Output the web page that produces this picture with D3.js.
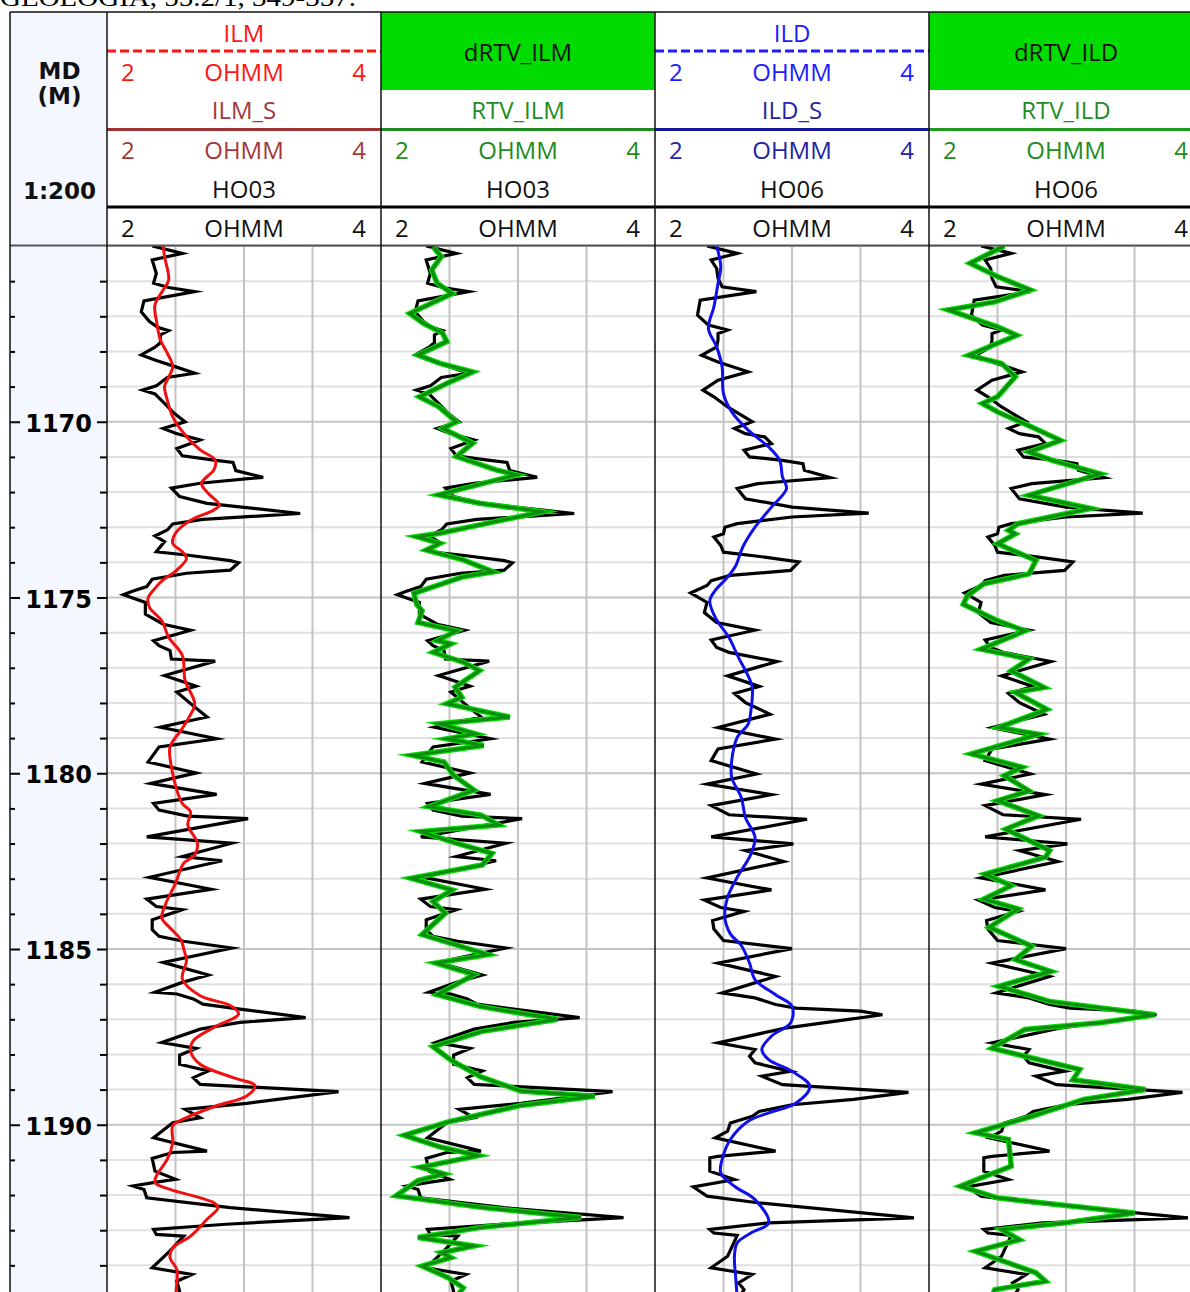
<!DOCTYPE html>
<html>
<head>
<meta charset="utf-8">
<script src="https://cdn.jsdelivr.net/npm/d3@7"></script>
<style>
    body { margin: 0; background: #fff; }
    svg { display: block; }
</style>
</head>
<body>
<div id="log"></div>
<script>
let citation = "GEOLOGIA, 55.2/1, 349-357."

let meterTicks = [1165, 1166, 1167, 1168, 1169, 1170, 1171, 1172, 1173, 1174, 1175, 1176, 1177, 1178, 1179, 1180,
    1181, 1182, 1183, 1184, 1185, 1186, 1187, 1188, 1189, 1190, 1191, 1192, 1193, 1194, 1195]
let depthLabels = [1170, 1175, 1180, 1185, 1190]
let gridValues = [2.5, 3, 3.5]
let scaleMin = 2
let scaleMax = 4
let unit = "OHMM"

// [depth (m), resistivity (ohmm)]
let ilmRaw = [
    [1165.00, 2.33], [1165.21, 2.55], [1165.40, 2.33], [1165.78, 2.36], [1166.06, 2.34], [1166.18, 2.45], [1166.30, 2.64],
    [1166.56, 2.27], [1166.87, 2.25], [1167.15, 2.31], [1167.31, 2.37], [1167.41, 2.45], [1167.53, 2.39], [1167.75, 2.39],
    [1167.88, 2.35], [1168.10, 2.25], [1168.26, 2.36], [1168.41, 2.48], [1168.62, 2.64], [1168.74, 2.44], [1168.98, 2.36],
    [1169.10, 2.26], [1169.21, 2.35], [1169.48, 2.42], [1169.76, 2.49], [1170.00, 2.57], [1170.19, 2.41], [1170.33, 2.50],
    [1170.52, 2.68], [1170.76, 2.51], [1170.97, 2.55], [1171.09, 2.78], [1171.16, 2.92], [1171.39, 2.94], [1171.58, 3.14],
    [1171.75, 2.68], [1171.89, 2.47], [1172.13, 2.53], [1172.32, 2.73], [1172.61, 3.41], [1172.78, 2.70], [1172.91, 2.48],
    [1173.08, 2.44], [1173.25, 2.35], [1173.41, 2.42], [1173.70, 2.36], [1173.79, 2.58], [1173.95, 2.90], [1174.01, 2.96],
    [1174.22, 2.90], [1174.31, 2.58], [1174.48, 2.33], [1174.69, 2.29], [1174.83, 2.18], [1174.92, 2.12], [1175.14, 2.28],
    [1175.47, 2.28], [1175.76, 2.41], [1175.93, 2.61], [1176.23, 2.34], [1176.37, 2.38], [1176.51, 2.46], [1176.75, 2.47],
    [1176.81, 2.79], [1177.22, 2.42], [1177.52, 2.65], [1177.69, 2.51], [1178.02, 2.61], [1178.40, 2.73], [1178.69, 2.39],
    [1179.02, 2.80], [1179.25, 2.38], [1179.68, 2.30], [1179.99, 2.65], [1180.29, 2.32], [1180.60, 2.80], [1180.86, 2.34],
    [1181.05, 2.38], [1181.22, 2.59], [1181.29, 3.03], [1181.81, 2.29], [1181.99, 2.91], [1182.37, 2.55], [1182.49, 2.84],
    [1182.96, 2.31], [1183.30, 2.76], [1183.58, 2.29], [1183.79, 2.36], [1183.88, 2.55], [1184.17, 2.33], [1184.45, 2.33],
    [1184.64, 2.38], [1184.78, 2.56], [1184.97, 2.91], [1185.38, 2.41], [1185.74, 2.74], [1185.95, 2.55], [1186.23, 2.35],
    [1186.28, 2.51], [1186.42, 2.63], [1186.57, 2.70], [1186.71, 2.97], [1186.95, 3.45], [1187.09, 2.97], [1187.28, 2.68],
    [1187.66, 2.40], [1187.83, 2.65], [1188.02, 2.53], [1188.28, 2.53], [1188.47, 2.74], [1188.66, 2.63], [1188.85, 2.68],
    [1189.06, 3.69], [1189.39, 3.02], [1189.56, 2.57], [1189.80, 2.68], [1189.94, 2.48], [1190.37, 2.34], [1190.75, 2.73],
    [1190.79, 2.48], [1190.96, 2.33], [1191.32, 2.35], [1191.55, 2.50], [1191.63, 2.36], [1191.74, 2.19], [1191.84, 2.27],
    [1192.08, 2.29], [1192.36, 2.90], [1192.64, 3.77], [1192.83, 2.87], [1192.98, 2.34], [1193.12, 2.36], [1193.17, 2.56],
    [1193.59, 2.46], [1194.07, 2.33], [1194.26, 2.62], [1194.45, 2.51], [1194.73, 2.53], [1195.00, 2.50]
]

let ilmSmooth = [
    [1165.00, 2.41], [1165.30, 2.42], [1165.97, 2.45], [1166.25, 2.41], [1166.68, 2.35], [1167.11, 2.36], [1167.67, 2.39],
    [1168.05, 2.44], [1168.43, 2.48], [1168.81, 2.44], [1169.00, 2.42], [1169.38, 2.44], [1169.86, 2.48], [1170.42, 2.58],
    [1170.80, 2.68], [1171.09, 2.79], [1171.37, 2.78], [1171.75, 2.69], [1172.04, 2.74], [1172.37, 2.82], [1172.51, 2.78],
    [1172.80, 2.61], [1173.17, 2.50], [1173.46, 2.48], [1173.70, 2.55], [1173.89, 2.58], [1174.22, 2.51], [1174.50, 2.41],
    [1174.74, 2.35], [1175.02, 2.30], [1175.28, 2.31], [1175.66, 2.40], [1176.13, 2.45], [1176.65, 2.55], [1177.36, 2.57],
    [1178.02, 2.64], [1178.40, 2.60], [1178.78, 2.54], [1179.25, 2.46], [1179.82, 2.47], [1180.48, 2.51], [1180.86, 2.55],
    [1181.10, 2.61], [1181.47, 2.59], [1181.99, 2.66], [1182.33, 2.64], [1182.56, 2.56], [1183.13, 2.50], [1183.70, 2.43],
    [1184.12, 2.40], [1184.36, 2.45], [1184.74, 2.54], [1185.00, 2.56], [1185.33, 2.58], [1185.85, 2.55], [1186.33, 2.68],
    [1186.61, 2.90], [1186.85, 2.96], [1187.23, 2.78], [1187.61, 2.63], [1187.90, 2.61], [1188.28, 2.68], [1188.66, 2.92],
    [1188.89, 3.08], [1189.18, 3.02], [1189.46, 2.80], [1189.80, 2.58], [1190.03, 2.48], [1190.51, 2.48], [1190.98, 2.44],
    [1191.46, 2.36], [1191.65, 2.35], [1191.84, 2.46], [1192.22, 2.78], [1192.36, 2.81], [1192.69, 2.73], [1193.17, 2.61],
    [1193.50, 2.48], [1193.78, 2.46], [1194.12, 2.51], [1194.50, 2.51], [1194.90, 2.50]
]

let rtvIlm = [
    [1165.02, 2.38], [1165.30, 2.44], [1165.68, 2.37], [1166.06, 2.41], [1166.35, 2.52], [1166.92, 2.21], [1167.20, 2.31],
    [1167.48, 2.45], [1167.72, 2.48], [1168.10, 2.27], [1168.34, 2.43], [1168.58, 2.67], [1168.91, 2.48], [1169.29, 2.28],
    [1169.57, 2.42], [1170.00, 2.55], [1170.19, 2.45], [1170.61, 2.67], [1170.99, 2.55], [1171.37, 2.84], [1171.51, 2.99],
    [1172.08, 2.42], [1172.32, 2.72], [1172.56, 3.18], [1173.17, 2.43], [1173.27, 2.26], [1173.46, 2.43], [1173.65, 2.33],
    [1173.93, 2.60], [1174.27, 2.82], [1174.41, 2.60], [1174.88, 2.24], [1175.19, 2.26], [1175.38, 2.30], [1175.71, 2.27],
    [1175.95, 2.55], [1176.23, 2.41], [1176.32, 2.51], [1176.56, 2.38], [1176.84, 2.60], [1177.08, 2.72], [1177.55, 2.54],
    [1177.84, 2.59], [1178.02, 2.48], [1178.40, 2.94], [1178.59, 2.43], [1178.88, 2.69], [1179.02, 2.48], [1179.21, 2.75],
    [1179.49, 2.23], [1179.68, 2.46], [1180.06, 2.53], [1180.48, 2.68], [1180.95, 2.35], [1181.19, 2.73], [1181.47, 2.86],
    [1181.66, 2.29], [1181.99, 2.55], [1182.28, 2.81], [1182.61, 2.74], [1182.99, 2.22], [1183.32, 2.52], [1183.65, 2.38],
    [1183.98, 2.47], [1184.59, 2.30], [1185.16, 2.78], [1185.40, 2.40], [1185.73, 2.68], [1186.30, 2.41], [1186.64, 2.73],
    [1187.00, 3.29], [1187.35, 2.73], [1187.78, 2.38], [1188.16, 2.51], [1188.64, 2.73], [1189.04, 3.02], [1189.19, 3.56],
    [1189.45, 3.02], [1189.92, 2.49], [1190.30, 2.17], [1190.64, 2.44], [1190.88, 2.71], [1191.21, 2.29], [1191.40, 2.46],
    [1191.59, 2.27], [1192.02, 2.11], [1192.35, 2.73], [1192.64, 3.46], [1192.92, 2.73], [1193.21, 2.27], [1193.45, 2.68],
    [1193.64, 2.44], [1193.78, 2.51], [1194.02, 2.30], [1194.35, 2.49], [1194.64, 2.60], [1194.90, 2.55]
]

let ildRaw = [
    [1165.00, 2.38], [1165.21, 2.60], [1165.40, 2.41], [1165.64, 2.45], [1165.92, 2.46], [1166.16, 2.49], [1166.30, 2.74],
    [1166.54, 2.33], [1166.97, 2.31], [1167.25, 2.39], [1167.39, 2.53], [1167.49, 2.46], [1167.68, 2.46], [1167.87, 2.45],
    [1168.11, 2.34], [1168.30, 2.46], [1168.58, 2.68], [1168.82, 2.46], [1169.10, 2.35], [1169.29, 2.43], [1169.58, 2.53],
    [1169.81, 2.63], [1170.00, 2.71], [1170.19, 2.58], [1170.34, 2.66], [1170.43, 2.80], [1170.62, 2.85], [1170.81, 2.65],
    [1171.00, 2.69], [1171.10, 2.93], [1171.19, 3.08], [1171.38, 3.09], [1171.59, 3.28], [1171.76, 2.75], [1171.90, 2.60],
    [1172.19, 2.66], [1172.43, 3.00], [1172.60, 3.56], [1172.71, 3.00], [1172.90, 2.60], [1173.00, 2.51], [1173.19, 2.50],
    [1173.28, 2.43], [1173.52, 2.48], [1173.71, 2.50], [1173.85, 2.80], [1173.99, 3.05], [1174.23, 2.99], [1174.37, 2.55],
    [1174.52, 2.41], [1174.66, 2.38], [1174.87, 2.26], [1175.14, 2.38], [1175.43, 2.36], [1175.71, 2.45], [1175.93, 2.73],
    [1176.21, 2.41], [1176.42, 2.45], [1176.56, 2.54], [1176.82, 2.89], [1177.23, 2.53], [1177.53, 2.76], [1177.73, 2.58],
    [1177.99, 2.66], [1178.32, 2.84], [1178.70, 2.46], [1179.03, 2.88], [1179.31, 2.46], [1179.64, 2.41], [1180.02, 2.74],
    [1180.31, 2.38], [1180.61, 2.85], [1180.92, 2.41], [1181.18, 2.54], [1181.31, 3.11], [1181.81, 2.41], [1182.01, 3.01],
    [1182.20, 2.66], [1182.51, 2.94], [1182.98, 2.38], [1183.32, 2.85], [1183.61, 2.36], [1183.82, 2.48], [1183.93, 2.65],
    [1184.19, 2.42], [1184.43, 2.43], [1184.76, 2.50], [1184.99, 3.00], [1185.40, 2.46], [1185.78, 2.88], [1186.25, 2.49],
    [1186.39, 2.73], [1186.58, 2.88], [1186.68, 3.03], [1186.77, 3.50], [1186.87, 3.66], [1187.01, 3.40], [1187.25, 2.95],
    [1187.67, 2.46], [1187.86, 2.73], [1188.05, 2.69], [1188.24, 2.73], [1188.48, 2.99], [1188.62, 2.78], [1188.86, 2.93],
    [1189.08, 3.85], [1189.28, 3.45], [1189.43, 3.00], [1189.62, 2.76], [1189.76, 2.71], [1189.95, 2.55], [1190.18, 2.53],
    [1190.37, 2.44], [1190.75, 2.88], [1190.90, 2.46], [1190.94, 2.40], [1191.32, 2.40], [1191.56, 2.58], [1191.77, 2.28],
    [1192.03, 2.38], [1192.22, 2.75], [1192.65, 3.89], [1192.79, 2.83], [1192.98, 2.40], [1193.08, 2.43], [1193.15, 2.60],
    [1193.74, 2.53], [1194.07, 2.41], [1194.26, 2.71], [1194.50, 2.61], [1194.69, 2.65], [1195.00, 2.60]
]

let ildSmooth = [
    [1165.00, 2.45], [1165.59, 2.48], [1166.06, 2.46], [1166.73, 2.43], [1167.35, 2.39], [1167.87, 2.45], [1168.44, 2.49],
    [1169.20, 2.50], [1169.72, 2.56], [1170.24, 2.68], [1170.72, 2.83], [1171.10, 2.91], [1171.57, 2.93], [1171.90, 2.96],
    [1172.43, 2.85], [1173.00, 2.73], [1173.57, 2.64], [1174.09, 2.59], [1174.42, 2.53], [1174.80, 2.44], [1175.09, 2.40],
    [1175.57, 2.44], [1176.14, 2.54], [1176.71, 2.61], [1177.23, 2.68], [1177.56, 2.71], [1178.22, 2.70], [1178.60, 2.68],
    [1178.98, 2.60], [1179.64, 2.56], [1180.12, 2.56], [1180.69, 2.63], [1181.26, 2.66], [1181.82, 2.73], [1182.30, 2.70],
    [1182.96, 2.60], [1183.53, 2.53], [1184.10, 2.51], [1184.57, 2.55], [1184.90, 2.63], [1185.40, 2.69], [1185.87, 2.73],
    [1186.30, 2.88], [1186.63, 3.00], [1187.10, 2.99], [1187.48, 2.85], [1187.86, 2.78], [1188.15, 2.83], [1188.48, 3.00],
    [1188.91, 3.13], [1189.38, 3.03], [1189.66, 2.83], [1189.90, 2.68], [1190.42, 2.55], [1190.99, 2.49], [1191.37, 2.48],
    [1191.75, 2.58], [1192.13, 2.73], [1192.79, 2.83], [1193.08, 2.70], [1193.36, 2.60], [1193.74, 2.58], [1194.40, 2.59],
    [1194.90, 2.60]
]

let rtvIld = [
    [1165.00, 2.55], [1165.49, 2.30], [1165.87, 2.50], [1166.25, 2.74], [1166.59, 2.48], [1166.82, 2.14], [1167.30, 2.50],
    [1167.54, 2.64], [1168.11, 2.29], [1168.34, 2.53], [1168.72, 2.63], [1169.29, 2.50], [1169.48, 2.39], [1169.72, 2.50],
    [1170.15, 2.75], [1170.53, 2.96], [1170.86, 2.73], [1171.10, 2.90], [1171.48, 3.25], [1172.09, 2.73], [1172.47, 3.18],
    [1172.90, 2.65], [1173.09, 2.58], [1173.19, 2.63], [1173.47, 2.50], [1173.95, 2.78], [1174.33, 2.73], [1174.61, 2.40],
    [1174.95, 2.28], [1175.19, 2.25], [1175.66, 2.50], [1175.95, 2.70], [1176.47, 2.38], [1176.75, 2.73], [1177.09, 2.60],
    [1177.56, 2.84], [1177.70, 2.63], [1178.18, 2.86], [1178.70, 2.51], [1178.89, 2.80], [1179.45, 2.31], [1179.83, 2.68],
    [1180.07, 2.55], [1180.50, 2.73], [1180.78, 2.50], [1181.21, 2.80], [1181.59, 2.56], [1182.20, 2.88], [1182.39, 2.85],
    [1182.87, 2.41], [1183.20, 2.60], [1183.58, 2.40], [1183.86, 2.65], [1184.38, 2.44], [1184.92, 2.75], [1185.30, 2.63],
    [1185.64, 2.89], [1186.06, 2.51], [1186.49, 2.88], [1186.87, 3.65], [1187.10, 3.25], [1187.29, 2.70], [1187.82, 2.46],
    [1188.10, 2.75], [1188.43, 3.10], [1188.72, 3.05], [1189.00, 3.58], [1189.28, 3.13], [1189.76, 2.75], [1190.23, 2.34],
    [1190.42, 2.58], [1191.18, 2.60], [1191.51, 2.38], [1191.75, 2.23], [1192.08, 2.50], [1192.51, 3.50], [1192.79, 3.00],
    [1192.98, 2.53], [1193.27, 2.66], [1193.60, 2.34], [1194.21, 2.78], [1194.45, 2.85], [1194.69, 2.48], [1194.95, 2.45]
]

let width = 1190
let height = 1292
let frameLeft = 10
let frameTop = 12
let depthRight = 107
let trackLeft = [107, 381, 655, 929]
let trackW = 274
let plotTop = 246
let pxPerMeter = 35.15

let headerFont = "'Open Sans', 'Noto Sans', sans-serif"
let depthFont = "'DejaVu Sans', Verdana, sans-serif"

let trackHeaders = [
    { well: "HO03", top: { name: "ILM", color: "#ff1414" }, mid: { name: "ILM_S", color: "#a2393b", line: "#9b3133" } },
    { well: "HO03", fill: "dRTV_ILM", mid: { name: "RTV_ILM", color: "#228b22", line: "#1f8a1f" } },
    { well: "HO06", top: { name: "ILD", color: "#1c1cff" }, mid: { name: "ILD_S", color: "#2424a4", line: "#16169a" } },
    { well: "HO06", fill: "dRTV_ILD", mid: { name: "RTV_ILD", color: "#228b22", line: "#1f9a1f" } }
]

// black raw log drawn first in the RTV tracks, the green pair on top of it
let trackCurves = [
    [{ data: ilmRaw, color: "#000", w: 3.2 }, { data: ilmSmooth, color: "#f01010", w: 3, smooth: true }],
    [{ data: ilmRaw, color: "#000", w: 3.2 }, { data: rtvIlm, color: "#00dc00", w: 5.5 }, { data: rtvIlm, color: "#0e8a10", w: 3 }],
    [{ data: ildRaw, color: "#000", w: 3.2 }, { data: ildSmooth, color: "#1010e8", w: 3, smooth: true }],
    [{ data: ildRaw, color: "#000", w: 3.2 }, { data: rtvIld, color: "#00dc00", w: 5.5 }, { data: rtvIld, color: "#0e8a10", w: 3 }]
]

let yScale = d3.scaleLinear()
    .domain([1165, 1195])
    .range([plotTop, plotTop + 30 * pxPerMeter])

let svg = d3.select('#log')
    .append('svg')
    .attr('width', width)
    .attr('height', height)

drawFrame()
drawGrid()
drawCurves()
drawDepthTrack()
drawHeader()

function drawFrame() {
    // citation line, cut by the top edge
    svg.append('text')
        .text(citation)
        .attr('x', 0)
        .attr('y', 6)
        .attr('font-family', "'Liberation Serif', serif")
        .attr('font-size', 26)
        .attr('textLength', 356)
        .attr('lengthAdjust', 'spacingAndGlyphs')
        .attr('fill', '#000')

    svg.append('rect')
        .attr('x', frameLeft)
        .attr('y', frameTop)
        .attr('width', depthRight - frameLeft)
        .attr('height', height - frameTop)
        .attr('fill', '#f4f8fe')
}

function drawGrid() {
    let grid = svg.append('g').attr('class', 'grid')

    grid.selectAll('.hgrid')
        .data(meterTicks)
        .join('line')
        .attr('class', 'hgrid')
        .attr('x1', depthRight)
        .attr('x2', width)
        .attr('y1', d => yScale(d))
        .attr('y2', d => yScale(d))
        .attr('stroke', d => d % 5 == 0 ? '#c4c4c4' : '#e0e0e0')
        .attr('stroke-width', 2)

    trackLeft.forEach(x0 => {
        let x = d3.scaleLinear().domain([scaleMin, scaleMax]).range([x0, x0 + trackW])
        grid.append('g')
            .selectAll('line')
            .data(gridValues)
            .join('line')
            .attr('x1', d => x(d))
            .attr('x2', d => x(d))
            .attr('y1', plotTop)
            .attr('y2', height)
            .attr('stroke', '#c4c4c4')
            .attr('stroke-width', 2)
    })
}

function drawCurves() {
    let defs = svg.append('defs')

    trackLeft.forEach((x0, i) => {
        defs.append('clipPath')
            .attr('id', 'clip' + i)
            .append('rect')
            .attr('x', x0 + 1)
            .attr('y', plotTop)
            .attr('width', trackW - 2)
            .attr('height', height - plotTop)

        let x = d3.scaleLinear().domain([scaleMin, scaleMax]).range([x0, x0 + trackW])
        let g = svg.append('g').attr('clip-path', `url(#clip${i})`)

        trackCurves[i].forEach(c => {
            let line = d3.line()
                .x(d => x(d[1]))
                .y(d => yScale(d[0]))
                .curve(c.smooth ? d3.curveCatmullRom.alpha(0.5) : d3.curveLinear)

            g.append('path')
                .datum(c.data)
                .attr('d', line)
                .attr('fill', 'none')
                .attr('stroke', c.color)
                .attr('stroke-width', c.w)
                .attr('stroke-linejoin', 'miter')
                .attr('stroke-miterlimit', 6)
        })
    })
}

function drawDepthTrack() {
    let minor = meterTicks.filter(d => d % 5 != 0)

    let styleAxis = sel => {
        sel.select('.domain').remove()
        sel.selectAll('.tick line').attr('stroke', '#000').attr('stroke-width', 2)
    }

    svg.append('g')
        .attr('transform', `translate(${depthRight},0)`)
        .call(d3.axisLeft(yScale).tickValues(minor).tickSize(7).tickFormat(''))
        .call(styleAxis)

    svg.append('g')
        .attr('transform', `translate(${frameLeft},0)`)
        .call(d3.axisRight(yScale).tickValues(minor).tickSize(5).tickFormat(''))
        .call(styleAxis)

    svg.append('g')
        .attr('transform', `translate(${frameLeft},0)`)
        .call(d3.axisRight(yScale).tickValues(depthLabels).tickSize(10).tickFormat(''))
        .call(styleAxis)

    let major = svg.append('g')
        .attr('transform', `translate(${depthRight},0)`)
        .call(d3.axisLeft(yScale).tickValues(depthLabels).tickSize(10).tickPadding(5).tickFormat(d3.format('d')))
        .call(styleAxis)

    major.selectAll('.tick text')
        .attr('font-family', depthFont)
        .attr('font-weight', 'bold')
        .attr('font-size', 24)
        .attr('fill', '#000')
        .attr('dy', '0.4em')

    // depth header
    let head = [["MD", 79], ["(M)", 104], ["1:200", 199]]
    svg.append('g')
        .selectAll('text')
        .data(head)
        .join('text')
        .text(d => d[0])
        .attr('x', (frameLeft + depthRight) / 2 + 1)
        .attr('y', d => d[1])
        .attr('text-anchor', 'middle')
        .attr('font-family', depthFont)
        .attr('font-weight', 'bold')
        .attr('font-size', 23)
        .attr('fill', '#111')
}

function scaleRow(g, x0, base, color) {
    let row = [[scaleMin, x0 + 14, 'start'], [unit, x0 + trackW / 2, 'middle'], [scaleMax, x0 + trackW - 15, 'end']]
    g.append('g')
        .selectAll('text')
        .data(row)
        .join('text')
        .text(d => d[0])
        .attr('x', d => d[1])
        .attr('y', base)
        .attr('text-anchor', d => d[2])
        .attr('font-family', headerFont)
        .attr('font-size', 24)
        .attr('fill', color)
}

function label(g, text, x, y, color) {
    g.append('text')
        .text(text)
        .attr('x', x)
        .attr('y', y)
        .attr('text-anchor', 'middle')
        .attr('font-family', headerFont)
        .attr('font-size', 24)
        .attr('fill', color)
}

function drawHeader() {
    let g = svg.append('g').attr('class', 'header')

    trackHeaders.forEach((h, i) => {
        let x0 = trackLeft[i]
        let cx = x0 + trackW / 2

        if (h.fill) {
            g.append('rect')
                .attr('x', x0)
                .attr('y', frameTop)
                .attr('width', trackW)
                .attr('height', 78)
                .attr('fill', '#00dc00')
            label(g, h.fill, cx, 61, '#111')
        } else {
            label(g, h.top.name, cx, 42, h.top.color)
            g.append('line')
                .attr('x1', x0).attr('x2', x0 + trackW)
                .attr('y1', 51).attr('y2', 51)
                .attr('stroke', h.top.color)
                .attr('stroke-width', 3)
                .attr('stroke-dasharray', '9,4')
            scaleRow(g, x0, 81, h.top.color)
        }

        label(g, h.mid.name, cx, 119, h.mid.color)
        g.append('line')
            .attr('x1', x0).attr('x2', x0 + trackW)
            .attr('y1', 129.5).attr('y2', 129.5)
            .attr('stroke', h.mid.line)
            .attr('stroke-width', 3)
        scaleRow(g, x0, 159, h.mid.color)

        label(g, h.well, cx, 198, '#111')
        scaleRow(g, x0, 237, '#111')
    })

    // rules and borders
    g.append('line')
        .attr('x1', depthRight).attr('x2', width)
        .attr('y1', 207).attr('y2', 207)
        .attr('stroke', '#000').attr('stroke-width', 3)

    g.append('line')
        .attr('x1', frameLeft).attr('x2', width)
        .attr('y1', 245.5).attr('y2', 245.5)
        .attr('stroke', '#555').attr('stroke-width', 2)

    g.append('line')
        .attr('x1', frameLeft).attr('x2', width)
        .attr('y1', frameTop).attr('y2', frameTop)
        .attr('stroke', '#111').attr('stroke-width', 1.5)

    g.selectAll('.border')
        .data([frameLeft].concat(trackLeft))
        .join('line')
        .attr('class', 'border')
        .attr('x1', d => d).attr('x2', d => d)
        .attr('y1', frameTop).attr('y2', height)
        .attr('stroke', '#111')
        .attr('stroke-width', 1.5)
}
</script>
</body>
</html>
